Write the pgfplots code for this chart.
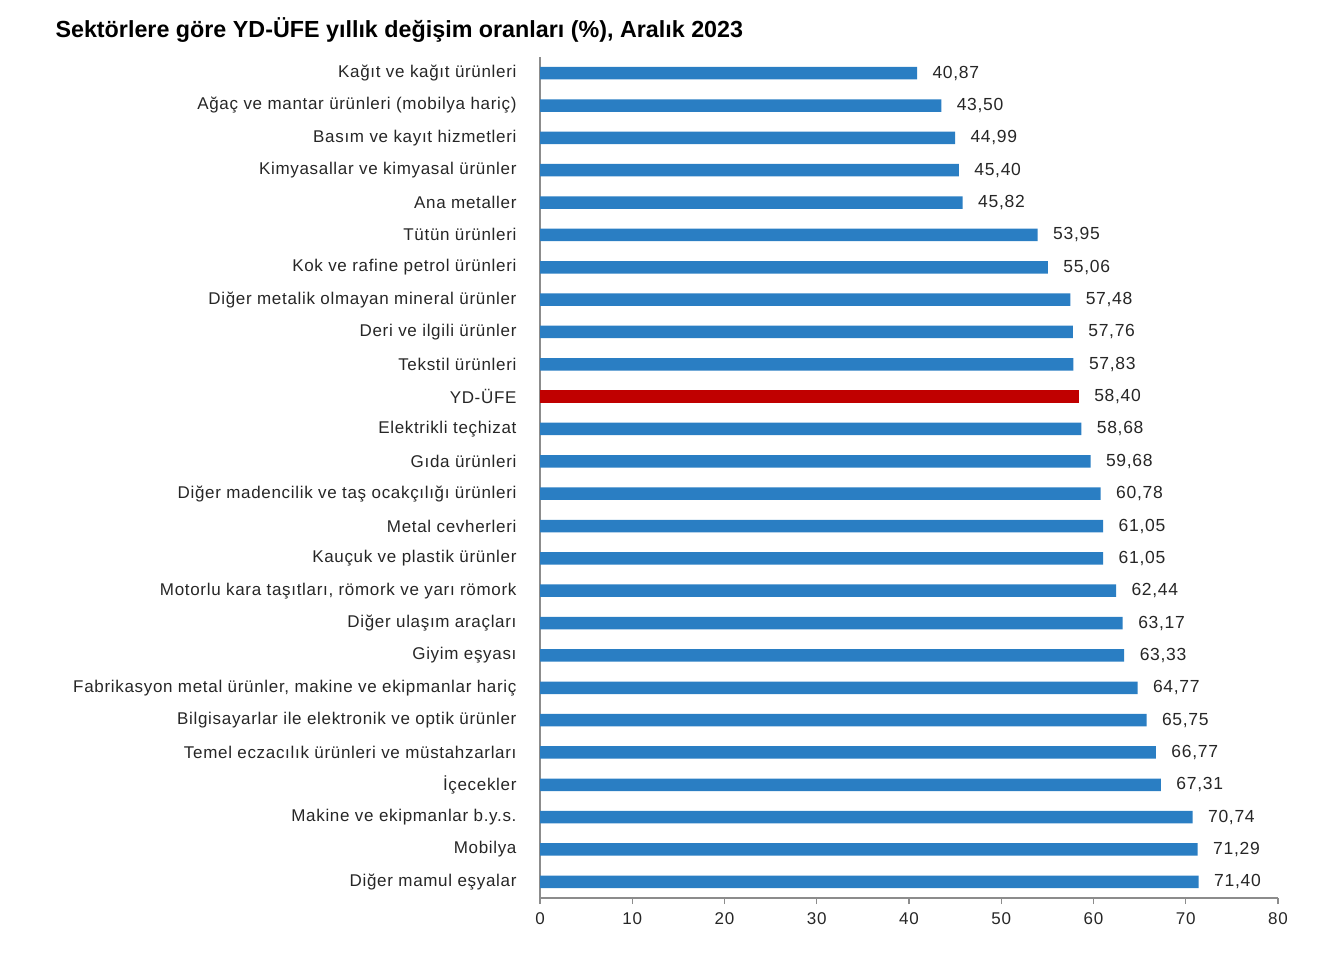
\documentclass[border=0pt]{standalone}
\usepackage{pgfplots}
\pgfplotsset{compat=1.18}
\usepackage{fontspec}
\setmainfont{Liberation Sans}
\newfontfamily\labfont[LetterSpace=4]{Liberation Sans}
\definecolor{barblue}{HTML}{2A7EC3}
\definecolor{barred}{HTML}{C00000}
\definecolor{axgray}{HTML}{8C8C8C}
\definecolor{txt}{HTML}{262626}
\begin{document}
\begin{tikzpicture}[x=1pt,y=1pt]
\useasboundingbox (0,0) rectangle (1335,960);
\node[anchor=west,font=\fontsize{23.3}{27}\selectfont\bfseries] at (52,930) {Sektörlere göre YD-ÜFE yıllık değişim oranları (\%), Aralık 2023};
\begin{axis}[
  at={(540pt,62pt)}, anchor=south west,
  scale only axis, width=738pt, height=841pt,
  xbar, bar width=12.5pt, bar shift=0pt,
  xmin=0, xmax=80, ymin=-0.5, ymax=25.5,
  y dir=reverse,
  axis lines*=left,
  axis line style={axgray, line width=1.2pt},
  xtick={0,10,...,80},
  tick align=outside,
  major tick length=6pt,
  xtick style={axgray, line width=1.2pt},
  ytick={0,...,25},
  ytick style={draw=none},
  yticklabels={
    Kağıt ve kağıt ürünleri,
    Ağaç ve mantar ürünleri (mobilya hariç),
    Basım ve kayıt hizmetleri,
    Kimyasallar ve kimyasal ürünler,
    Ana metaller,
    Tütün ürünleri,
    Kok ve rafine petrol ürünleri,
    Diğer metalik olmayan mineral ürünler,
    Deri ve ilgili ürünler,
    Tekstil ürünleri,
    YD-ÜFE,
    Elektrikli teçhizat,
    Gıda ürünleri,
    Diğer madencilik ve taş ocakçılığı ürünleri,
    Metal cevherleri,
    Kauçuk ve plastik ürünler,
    {Motorlu kara taşıtları, römork ve yarı römork},
    Diğer ulaşım araçları,
    Giyim eşyası,
    {Fabrikasyon metal ürünler, makine ve ekipmanlar hariç},
    Bilgisayarlar ile elektronik ve optik ürünler,
    Temel eczacılık ürünleri ve müstahzarları,
    İçecekler,
    Makine ve ekipmanlar b.y.s.,
    Mobilya,
    Diğer mamul eşyalar},
  yticklabel style={font=\labfont\fontsize{17}{20}\selectfont, text=txt, xshift=-14pt},
  xticklabel style={font=\labfont\fontsize{17}{20}\selectfont, text=txt, yshift=-5pt},
  /pgf/number format/assume math mode=true,
  nodes near coords={\pgfmathprintnumber[fixed,fixed zerofill,precision=2,use comma,assume math mode=true]{\pgfplotspointmeta}},
  nodes near coords style={font=\labfont\fontsize{17.5}{20}\selectfont, text=txt, anchor=west, xshift=12pt},
  clip=false,
]
\addplot[fill=barblue, draw=none] coordinates {
(40.87,0) (43.50,1) (44.99,2) (45.40,3) (45.82,4) (53.95,5) (55.06,6) (57.48,7) (57.76,8) (57.83,9)
(58.68,11) (59.68,12) (60.78,13) (61.05,14) (61.05,15) (62.44,16) (63.17,17) (63.33,18) (64.77,19)
(65.75,20) (66.77,21) (67.31,22) (70.74,23) (71.29,24) (71.40,25)};
\addplot[fill=barred, draw=none] coordinates {(58.40,10)};
\end{axis}
\end{tikzpicture}
\end{document}
